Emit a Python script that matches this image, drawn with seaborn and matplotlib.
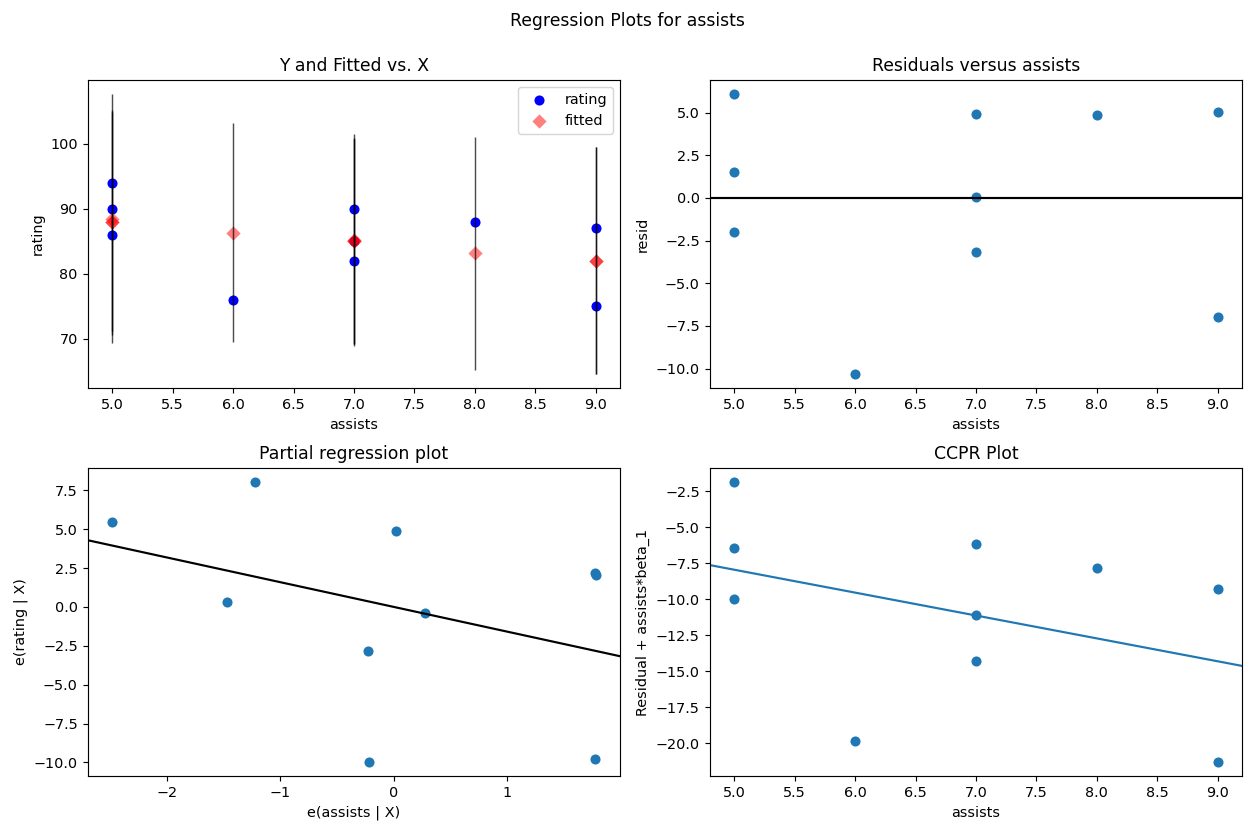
import numpy as np
import matplotlib
matplotlib.use("Agg")
import matplotlib.pyplot as plt
import seaborn as sns

# data: rating ~ assists + rebounds
rating = [90, 85, 82, 88, 94, 90, 76, 75, 87, 86]
assists = [5, 7, 7, 8, 5, 7, 6, 9, 9, 5]
rebounds = [11, 8, 10, 6, 6, 9, 6, 10, 10, 7]

T_975_DF7 = 2.364624  # t quantile for 95% prediction interval, df = 7

y = np.array(rating, dtype=float)
x1 = np.array(assists, dtype=float)
x2 = np.array(rebounds, dtype=float)
n = len(y)

# OLS fit
X = np.column_stack([np.ones(n), x1, x2])
params, *_ = np.linalg.lstsq(X, y, rcond=None)
fitted = X @ params
resid = y - fitted
mse = resid @ resid / (n - X.shape[1])
cov = mse * np.linalg.inv(X.T @ X)
prstd = np.sqrt(mse + np.einsum("ij,jk,ik->i", X, cov, X))
iv_l = fitted - T_975_DF7 * prstd
iv_u = fitted + T_975_DF7 * prstd

# partial regression (assists | const, rebounds)
Z = np.column_stack([np.ones(n), x2])
ex = x1 - Z @ np.linalg.lstsq(Z, x1, rcond=None)[0]
ey = y - Z @ np.linalg.lstsq(Z, y, rcond=None)[0]
pslope = (ex @ ey) / (ex @ ex)

beta1 = params[1]
ccpr = resid + x1 * beta1

# -----------------------------
# FIGURE
# -----------------------------
DPI = 103.68
fig = plt.figure(figsize=(1244 / DPI, 822 / DPI), dpi=DPI)
W, H = 0.4277, 0.3747
ax1 = fig.add_axes([0.0707, 0.528, W, H])
ax2 = fig.add_axes([0.5707, 0.528, W, H])
ax3 = fig.add_axes([0.0707, 0.056, W, H])
ax4 = fig.add_axes([0.5707, 0.056, W, H])

blue = "#1f77b4"
pt = dict(s=49, linewidth=0)

# 1. Y and fitted vs X
sns.scatterplot(x=x1, y=y, color="b", label="rating", ax=ax1, **pt)
sns.scatterplot(x=x1, y=fitted, marker="D", color="r", alpha=.5,
                label="fitted", ax=ax1, **pt)
ax1.vlines(x1, iv_l, iv_u, linewidth=1, color="k", alpha=.7)
ax1.set_title("Y and Fitted vs. X", fontsize="large")
ax1.set_xlabel("assists")
ax1.set_ylabel("rating")
ax1.legend(loc="upper right")

# 2. residuals
sns.scatterplot(x=x1, y=resid, color=blue, ax=ax2, **pt)
ax2.axhline(y=0, color="black")
ax2.set_title("Residuals versus assists", fontsize="large")
ax2.set_xlabel("assists")
ax2.set_ylabel("resid")

# 3. partial regression
sns.scatterplot(x=ex, y=ey, color=blue, ax=ax3, **pt)
xl = ax3.get_xlim()
ax3.plot(xl, [pslope * xl[0], pslope * xl[1]], color="k")
ax3.set_xlim(xl)
ax3.set_title("Partial regression plot", fontsize="large")
ax3.set_xlabel("e(assists | X)")
ax3.set_ylabel("e(rating | X)")

# 4. CCPR
sns.scatterplot(x=x1, y=ccpr, color=blue, ax=ax4, **pt)
xl = ax4.get_xlim()
ax4.plot(xl, [beta1 * xl[0], beta1 * xl[1]], color=blue)
ax4.set_xlim(xl)
ax4.set_title("CCPR Plot", fontsize="large")
ax4.set_xlabel("assists")
ax4.set_ylabel("Residual + assists*beta_1")

fig.suptitle("Regression Plots for assists", fontsize="large", x=0.504, y=0.985)
fig.savefig("out.png", dpi=DPI)
